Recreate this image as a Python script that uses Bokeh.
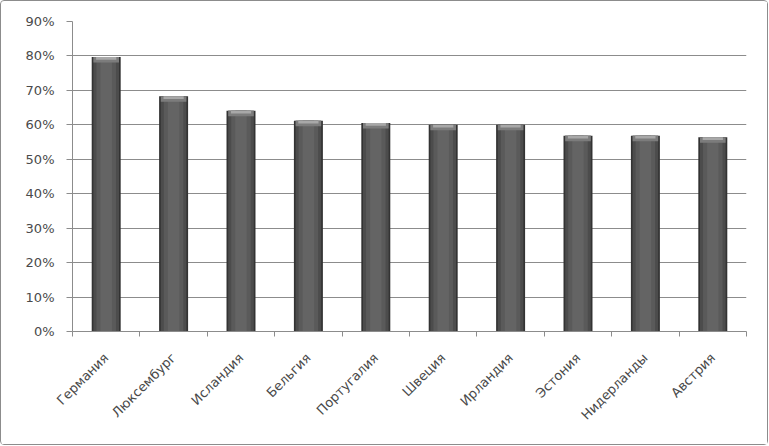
from bokeh.plotting import figure
from bokeh.models import FixedTicker, NumeralTickFormatter, Range1d, ColumnDataSource
from bokeh.embed import file_html
from bokeh.resources import INLINE
import math

countries = ["Германия", "Люксембург", "Исландия", "Бельгия", "Португалия",
             "Швеция", "Ирландия", "Эстония", "Нидерланды", "Австрия"]
shares = [0.797, 0.683, 0.641, 0.612, 0.605, 0.600, 0.600, 0.568, 0.568, 0.564]
y_ticks = [0.0, 0.1, 0.2, 0.3, 0.4, 0.5, 0.6, 0.7, 0.8, 0.9]

xc = [i + 0.5 for i in range(len(countries))]
src = ColumnDataSource(dict(x=xc, top=shares,
                            cap_bottom=[v - 0.016 for v in shares],
                            cap_mid=[v - 0.008 for v in shares]))

p = figure(width=768, height=445, output_backend="svg", toolbar_location=None,
           x_range=Range1d(0, len(countries)), y_range=Range1d(0, 0.9),
           min_border_left=71, min_border_right=23, min_border_top=20,
           min_border_bottom=115)
p.styles = {"border": "1px solid #8c8c8c", "border-radius": "4px", "box-sizing": "border-box"}
p.outline_line_color = None
p.background_fill_color = "white"
p.border_fill_color = "white"

# cylinder-like bars: layered fills
p.vbar(x="x", top="top", bottom=0, width=0.43, source=src,
       fill_color="#333333", line_color=None)
p.vbar(x="x", top="top", bottom=0, width=0.38, source=src,
       fill_color="#4c4c4c", line_color=None)
p.vbar(x="x", top="top", bottom=0, width=0.29, source=src,
       fill_color="#5a5a5a", line_color=None)
p.vbar(x="x", top="top", bottom=0, width=0.17, source=src,
       fill_color="#646464", line_color=None)
# light bevel at the top
p.vbar(x="x", top="top", bottom="cap_bottom", width=0.38, source=src,
       fill_color="#7c7c7c", line_color=None)
p.vbar(x="x", top="top", bottom="cap_mid", width=0.30, source=src,
       fill_color="#a8a8a8", line_color=None)

label_font = "DejaVu Sans"
label_color = "#4a4a4a"

# y axis
p.yaxis.ticker = FixedTicker(ticks=y_ticks)
p.yaxis.formatter = NumeralTickFormatter(format="0%")
p.yaxis.axis_line_color = "#8c8c8c"
p.yaxis.major_tick_line_color = "#8c8c8c"
p.yaxis.major_tick_out = 6
p.yaxis.major_tick_in = 0
p.yaxis.minor_tick_line_color = None
p.yaxis.major_label_text_font = label_font
p.yaxis.major_label_text_font_size = "13px"
p.yaxis.major_label_text_color = label_color
p.yaxis.major_label_standoff = 12

# x axis: labels at centers, ticks at boundaries
p.xaxis.ticker = FixedTicker(ticks=xc, minor_ticks=list(range(len(countries) + 1)))
p.xaxis.major_label_overrides = {x: c for x, c in zip(xc, countries)}
p.xaxis.major_label_orientation = math.pi / 4
p.xaxis.major_tick_line_color = None
p.xaxis.minor_tick_line_color = "#8c8c8c"
p.xaxis.minor_tick_out = 5
p.xaxis.minor_tick_in = 0
p.xaxis.axis_line_color = "#8c8c8c"
p.xaxis.major_label_text_font = label_font
p.xaxis.major_label_text_font_size = "13px"
p.xaxis.major_label_text_color = label_color
p.xaxis.major_label_standoff = 18

p.xgrid.grid_line_color = None
p.ygrid.ticker = FixedTicker(ticks=y_ticks)
p.ygrid.grid_line_color = "#8c8c8c"
p.ygrid.grid_line_width = 1

open("out.html", "w").write(file_html(p, INLINE))
